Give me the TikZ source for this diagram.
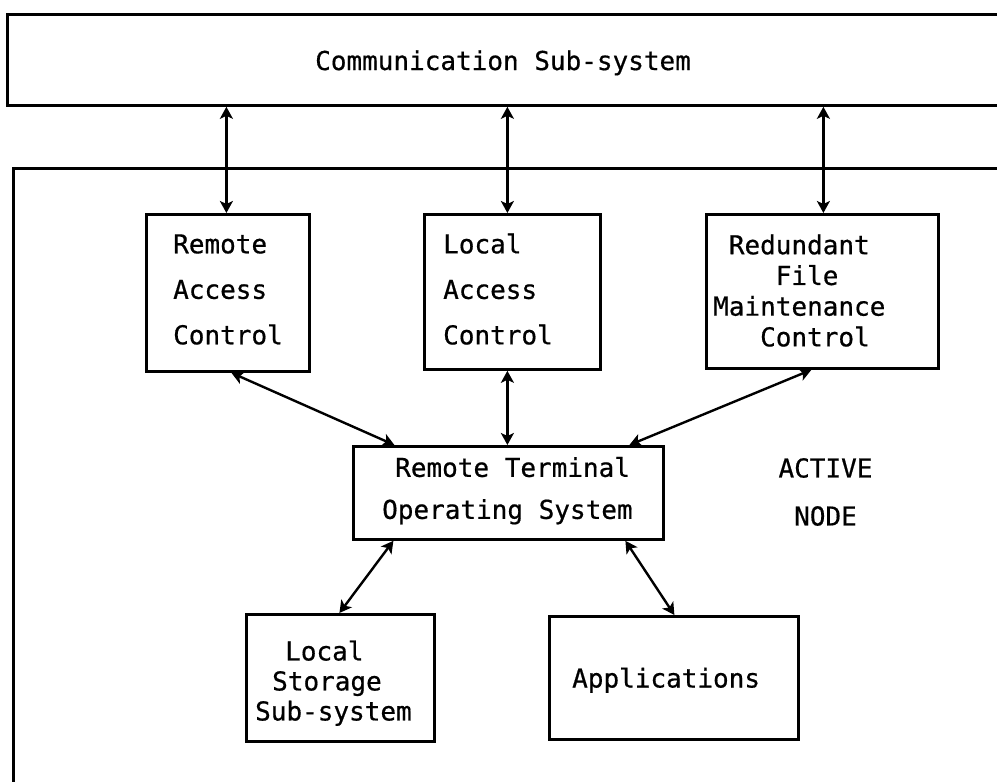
\documentclass[tikz,border=0pt]{standalone}
\usepackage{fontspec}
\setmonofont{DejaVu Sans Mono}
\usetikzlibrary{arrows.meta}

\begin{document}
\begin{tikzpicture}[x=1pt,y=-1pt,
  >={Stealth[length=12pt,width=13pt,inset=3pt]},
  frame/.style={draw, rectangle, line width=2.8pt, inner sep=0pt, anchor=north west},
  boxw/.style={minimum width=#1},
  boxh/.style={minimum height=#1},
  txtlab/.style={font=\ttfamily\addfontfeature{FakeBold=0.6}\fontsize{26}{#1}\selectfont, inner sep=0pt, align=left},
  link/.style={<->, line width=2.4pt}
]
\useasboundingbox (0,0) rectangle (997,782);

% the two open frames run off the right edge
\node[frame, boxw=1010, boxh=91] (comm) at (6,13) {};
\node[frame, boxw=1000, boxh=640] (frame) at (12,167) {};
\node[txtlab=30, anchor=base west] (commT) at (315,70) {Communication Sub-system};

% module boxes
\node[frame, boxw=163, boxh=157] (rac)  at (145,213) {};
\node[frame, boxw=176, boxh=155] (lac)  at (423,213) {};
\node[frame, boxw=232, boxh=154] (rfmc) at (705,213) {};
\node[frame, boxw=310, boxh=93]  (rtos) at (352,445) {};
\node[frame, boxw=188, boxh=127] (lss)  at (245,613) {};
\node[frame, boxw=249, boxh=123] (apps) at (548,615) {};

% box texts
\node[txtlab=45.5, anchor=west] (racT) at (173,289.5) {Remote\\Access\\Control};
\node[txtlab=45.5, anchor=west] (lacT) at (443,289.1) {Local\\Access\\Control};
\node[txtlab=30.7, anchor=west] (rfmcT) at (713,290.6)
  {\phantom{x}Redundant\\\phantom{xxxx}File\\Maintenance\\\phantom{xxx}Control};
\node[txtlab=42, anchor=west] (rtosT) at (382,490.7)
  {\hspace*{13pt}Remote Terminal\\Operating System};
\node[txtlab=30, anchor=west] (lssT) at (255,683.2)
  {\hspace*{30pt}Local\\\hspace*{17pt}Storage\\Sub-system};
\node[txtlab=30, anchor=base west] (appsT) at (572,687.5) {Applications};
\node[txtlab=48, align=center] (active) at (825.5,492) {ACTIVE\\NODE};

% entry points on the module tops
\coordinate (racIn)  at ([xshift=-1.5pt]rac.north);
\coordinate (lacIn)  at ([xshift=-5pt]lac.north);
\coordinate (rfmcIn) at ([xshift=1pt]rfmc.north);

% links to the communication sub-system
\draw[link] (comm.south -| racIn)  -- (racIn);
\draw[link] (comm.south -| lacIn)  -- (lacIn);
\draw[link] (comm.south -| rfmcIn) -- (rfmcIn);

% links to the operating system
\draw[link] ([xshift=3.5pt]rac.south)  -- ([xshift=-114pt]rtos.north);
\draw[link] ([xshift=-5pt]lac.south)   -- ([xshift=-1pt]rtos.north);
\draw[link] ([xshift=-11pt]rfmc.south) -- ([xshift=121pt]rtos.north);
\draw[link] ([xshift=-115pt]rtos.south) -- ([xshift=-1pt]lss.north);
\draw[link] ([xshift=117pt]rtos.south)  -- ([xshift=0.5pt]apps.north);
\end{tikzpicture}
\end{document}
